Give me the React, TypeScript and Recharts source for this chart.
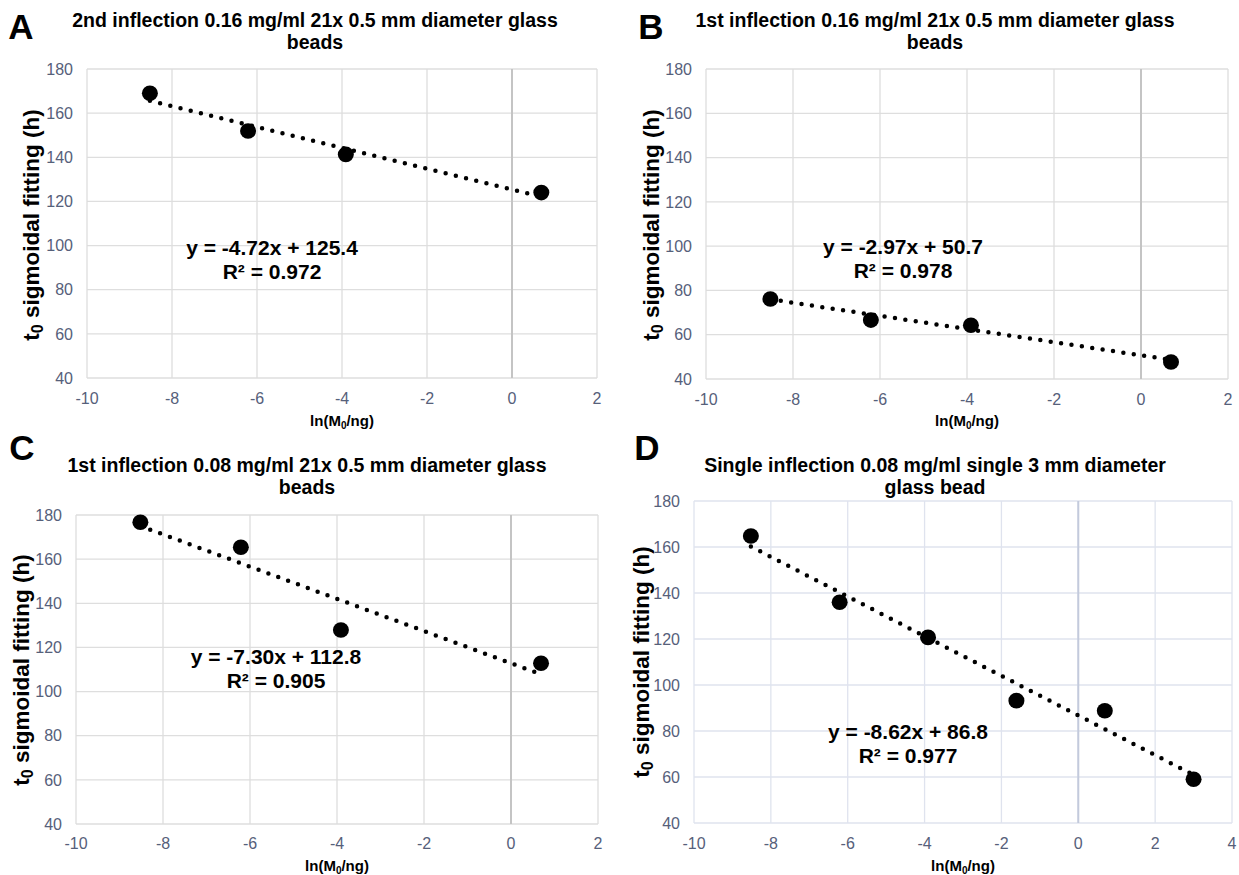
import React from "react";
import {
  CartesianGrid,
  ComposedChart,
  Line,
  ReferenceLine,
  Scatter,
  XAxis,
  YAxis,
} from "recharts";

// ln(M0/ng) for the dilution series
const lnMass = [-8.52, -6.21, -3.91, 0.69];
const lnMassD = [-8.52, -6.21, -3.91, -1.61, 0.69, 3.0];

// t0 from sigmoidal fitting (h)
const t0A = [169, 151.9, 141.3, 124];
const t0B = [76.1, 66.6, 64.3, 47.7];
const t0C = [176.7, 165.4, 127.9, 112.8];
const t0D = [164.8, 136, 120.7, 93.2, 88.8, 59];

// linear trendline end points (first x, last x)
const trendA = [165.6, 122.1];
const trendB = [76.0, 48.65];
const trendC = [175.0, 107.8];
const trendD = [160.2, 60.9];

const titles = [
  ["2nd inflection 0.16 mg/ml 21x 0.5 mm diameter glass", "beads"],
  ["1st inflection 0.16 mg/ml 21x 0.5 mm diameter glass", "beads"],
  ["1st inflection 0.08 mg/ml 21x 0.5 mm diameter glass", "beads"],
  ["Single inflection 0.08 mg/ml single 3 mm diameter", "glass bead"],
];
const letters = ["A", "B", "C", "D"];
const equations = [
  ["y = -4.72x + 125.4", "R² = 0.972"],
  ["y = -2.97x + 50.7", "R² = 0.978"],
  ["y = -7.30x + 112.8", "R² = 0.905"],
  ["y = -8.62x + 86.8", "R² = 0.977"],
];

const yTicks = [40, 60, 80, 100, 120, 140, 160, 180];
const xTicks = [-10, -8, -6, -4, -2, 0, 2];
const xTicksD = [-10, -8, -6, -4, -2, 0, 2, 4];

const FONT = '"Liberation Sans", Arial, sans-serif';
const TICK = "#56607a";

const toPts = (xs: number[], ys: number[]) => xs.map((x, i) => ({ x, y: ys[i] }));
const toTrend = (xs: number[], ends: number[]) => [
  { x: xs[0], y: ends[0] },
  { x: xs[xs.length - 1], y: ends[1] },
];

type Panel = {
  box: { x: number; y: number; w: number; h: number };
  plot: { l: number; t: number; r: number; b: number };
  points: { x: number; y: number }[];
  trend: { x: number; y: number }[];
  xTicks: number[];
  grid: string;
  zero: string;
  tickMargin: number;
  letter: { x: number; y: number };
  titleAt: { x: number; y: number };
  yTitleAt: { x: number; y: number };
  xTitleAt: { x: number; y: number };
  eqAt: { x: number; y: number };
};

const panels: Panel[] = [
  {
    box: { x: 0, y: 0, w: 620, h: 430 },
    plot: { l: 87, t: 69, r: 597, b: 378 },
    points: toPts(lnMass, t0A),
    trend: toTrend(lnMass, trendA),
    xTicks,
    grid: "#dedede",
    zero: "#c4c4c4",
    tickMargin: 14.5,
    letter: { x: 21, y: 27 },
    titleAt: { x: 315, y: 20 },
    yTitleAt: { x: 32, y: 225 },
    xTitleAt: { x: 342, y: 420 },
    eqAt: { x: 272, y: 248 },
  },
  {
    box: { x: 620, y: 0, w: 619, h: 430 },
    plot: { l: 706, t: 69, r: 1228, b: 379 },
    points: toPts(lnMass, t0B),
    trend: toTrend(lnMass, trendB),
    xTicks,
    grid: "#dedede",
    zero: "#c4c4c4",
    tickMargin: 14.5,
    letter: { x: 651, y: 27 },
    titleAt: { x: 935, y: 20 },
    yTitleAt: { x: 652, y: 225 },
    xTitleAt: { x: 967, y: 420 },
    eqAt: { x: 903, y: 247 },
  },
  {
    box: { x: 0, y: 430, w: 620, h: 445 },
    plot: { l: 76, t: 515, r: 598, b: 824 },
    points: toPts(lnMass, t0C),
    trend: toTrend(lnMass, trendC),
    xTicks,
    grid: "#dedede",
    zero: "#c4c4c4",
    tickMargin: 13.5,
    letter: { x: 22, y: 448 },
    titleAt: { x: 307, y: 465 },
    yTitleAt: { x: 22, y: 670 },
    xTitleAt: { x: 337, y: 865 },
    eqAt: { x: 276, y: 657 },
  },
  {
    box: { x: 620, y: 430, w: 619, h: 445 },
    plot: { l: 694, t: 501, r: 1232, b: 823 },
    points: toPts(lnMassD, t0D),
    trend: toTrend(lnMassD, trendD),
    xTicks: xTicksD,
    grid: "#dfe3ee",
    zero: "#c3cadc",
    tickMargin: 14.5,
    letter: { x: 647, y: 448 },
    titleAt: { x: 935, y: 465 },
    yTitleAt: { x: 642, y: 662 },
    xTitleAt: { x: 963, y: 865 },
    eqAt: { x: 908, y: 732 },
  },
];

const Y_AXIS_W = 60;
const X_AXIS_H = 30;

function Dot(props: any) {
  const { cx, cy } = props;
  if (cx == null || cy == null) return null;
  return <ellipse cx={cx} cy={cy} rx={8} ry={7.8} fill="#000" />;
}

function Abs({ x, y, style, children }: any) {
  return (
    <div
      style={{
        position: "absolute",
        left: x,
        top: y,
        transform: "translate(-50%, -50%)",
        whiteSpace: "nowrap",
        fontFamily: FONT,
        fontWeight: 700,
        color: "#000",
        textAlign: "center",
        ...style,
      }}
    >
      {children}
    </div>
  );
}

function PanelChart({ p, i }: { p: Panel; i: number }) {
  const margin = {
    left: p.plot.l - p.box.x - Y_AXIS_W,
    top: p.plot.t - p.box.y,
    right: p.box.x + p.box.w - p.plot.r,
    bottom: p.box.y + p.box.h - p.plot.b - X_AXIS_H,
  };
  const xMax = p.xTicks[p.xTicks.length - 1];
  return (
    <>
      <div style={{ position: "absolute", left: p.box.x, top: p.box.y }}>
        <ComposedChart width={p.box.w} height={p.box.h} margin={margin}>
          <CartesianGrid stroke={p.grid} strokeWidth={1.3} />
          <XAxis
            type="number"
            dataKey="x"
            domain={[-10, xMax]}
            ticks={p.xTicks}
            height={X_AXIS_H}
            axisLine={false}
            tickLine={false}
            tickSize={0}
            tickMargin={p.tickMargin}
            interval={0}
            tick={{ fill: TICK, fontSize: 16, fontFamily: FONT }}
          />
          <YAxis
            type="number"
            dataKey="y"
            domain={[40, 180]}
            ticks={yTicks}
            width={Y_AXIS_W}
            axisLine={false}
            tickLine={false}
            tickSize={0}
            tickMargin={14}
            interval={0}
            tick={{ fill: TICK, fontSize: 16, fontFamily: FONT }}
          />
          <ReferenceLine x={0} stroke={p.zero} strokeWidth={2} />
          <Scatter
            data={p.points}
            dataKey="y"
            shape={<Dot />}
            isAnimationActive={false}
          />
          <Line
            data={p.trend}
            dataKey="y"
            type="linear"
            stroke="#000"
            strokeWidth={4.5}
            strokeDasharray="0 10.5"
            strokeLinecap="round"
            dot={false}
            activeDot={false}
            isAnimationActive={false}
          />
        </ComposedChart>
      </div>
      <Abs x={p.letter.x} y={p.letter.y} style={{ fontSize: 35 }}>
        {letters[i]}
      </Abs>
      <div
        style={{
          position: "absolute",
          left: p.titleAt.x,
          top: p.titleAt.y - 11,
          transform: "translateX(-50%)",
          whiteSpace: "nowrap",
          fontFamily: FONT,
          fontWeight: 700,
          fontSize: 19.5,
          lineHeight: "22px",
          textAlign: "center",
        }}
      >
        <div>{titles[i][0]}</div>
        <div>{titles[i][1]}</div>
      </div>
      <Abs
        x={p.yTitleAt.x}
        y={p.yTitleAt.y}
        style={{ fontSize: 22.5, transform: "translate(-50%, -50%) rotate(-90deg)" }}
      >
        t<sub style={{ fontSize: 16, verticalAlign: "-4px", lineHeight: 0 }}>0</sub>{" "}
        sigmoidal fitting (h)
      </Abs>
      <Abs x={p.xTitleAt.x} y={p.xTitleAt.y} style={{ fontSize: 15 }}>
        ln(M<sub style={{ fontSize: 10, verticalAlign: "-3px", lineHeight: 0 }}>0</sub>/ng)
      </Abs>
      <div
        style={{
          position: "absolute",
          left: p.eqAt.x,
          top: p.eqAt.y - 12,
          transform: "translateX(-50%)",
          whiteSpace: "nowrap",
          fontFamily: FONT,
          fontWeight: 700,
          fontSize: 21,
          lineHeight: "24px",
          textAlign: "center",
        }}
      >
        <div>{equations[i][0]}</div>
        <div>{equations[i][1]}</div>
      </div>
    </>
  );
}

export default function App() {
  return (
    <div
      style={{
        position: "absolute",
        left: 0,
        top: 0,
        width: 1239,
        height: 875,
        background: "#fff",
        overflow: "hidden",
      }}
    >
      {panels.map((p, i) => (
        <PanelChart key={letters[i]} p={p} i={i} />
      ))}
    </div>
  );
}
